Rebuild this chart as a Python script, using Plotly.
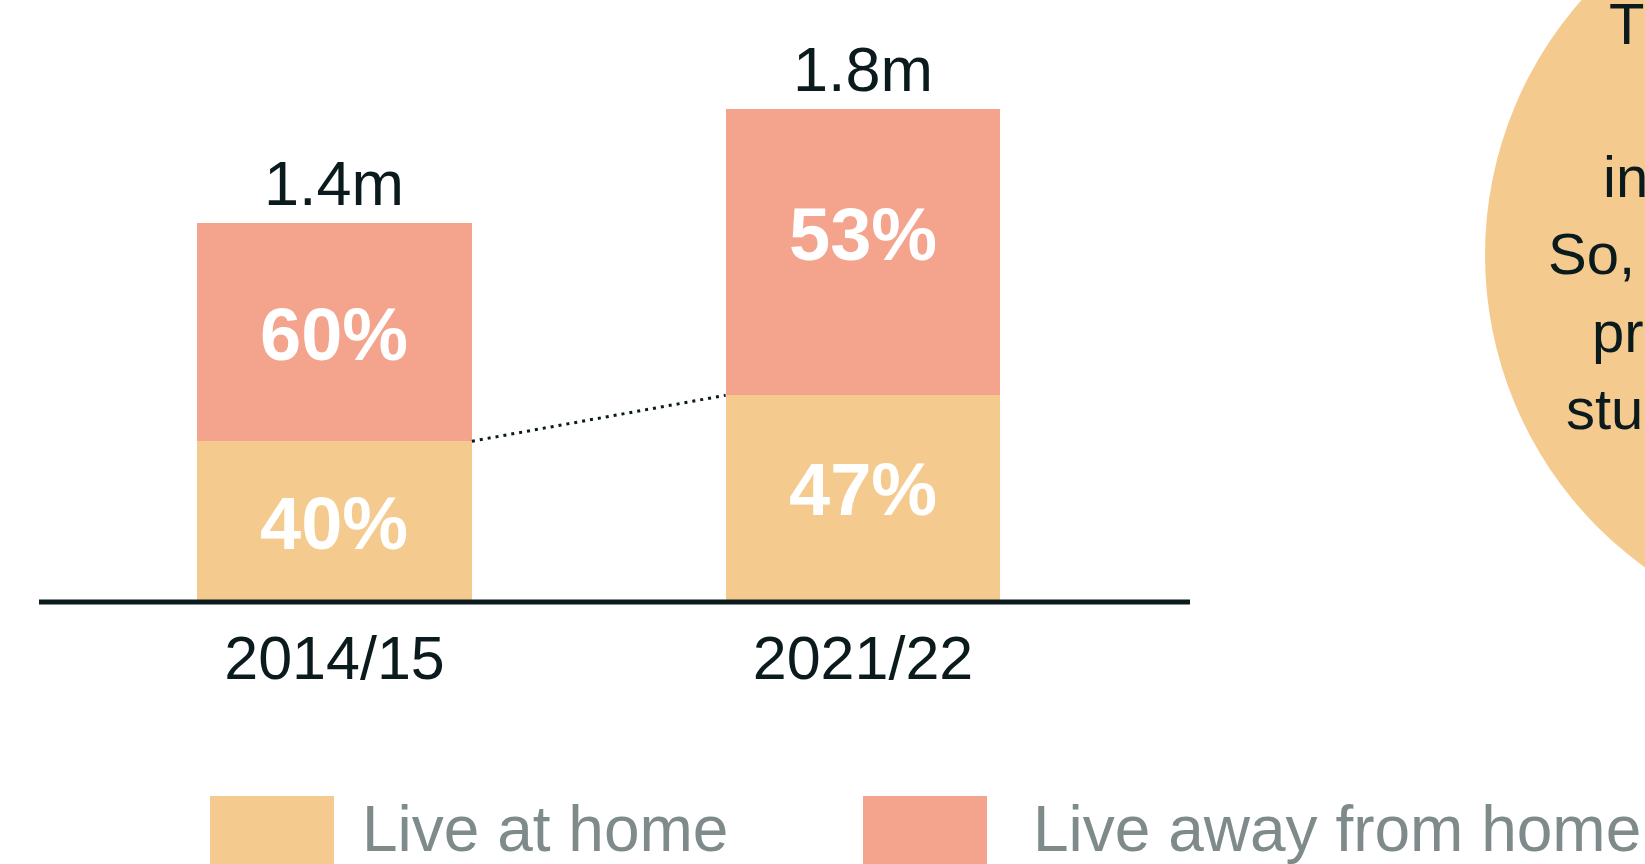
import plotly.graph_objects as go

# ---- data ----
categories = ["2014/15", "2021/22"]
live_at_home = [0.59, 0.76]        # millions
live_away = [0.81, 1.06]           # millions
pct_home = ["40%", "47%"]
pct_away = ["60%", "53%"]
total_labels = ["1.4m", "1.8m"]
legend_names = ["Live at home", "Live away from home"]
circle_lines = ["The", "into", "So, what", "pressure", "students"]

# ---- style ----
W, H = 1645, 864
C_HOME = "#F5CA8E"
C_AWAY = "#F4A38D"
C_DARK = "#0B1A1C"
C_GREY = "#7F8A8A"
FONT = "Liberation Sans, Arial, sans-serif"
BAR_W = 0.52
home_label_shift = [-3, 8]     # px nudges of the in-bar labels
away_label_shift = [-3, 18]

def px(x):
    return x / W

def py(y):
    return 1 - y / H

x_pos = list(range(len(categories)))
totals = [a + b for a, b in zip(live_at_home, live_away)]

fig = go.Figure()
fig.add_trace(go.Bar(
    x=x_pos, y=live_at_home, width=BAR_W, marker=dict(color=C_HOME, line=dict(width=0)),
    hoverinfo="skip", showlegend=False,
))
fig.add_trace(go.Bar(
    x=x_pos, y=live_away, width=BAR_W, marker=dict(color=C_AWAY, line=dict(width=0)),
    hoverinfo="skip", showlegend=False,
))
# dotted connector between the "live at home" tops
fig.add_trace(go.Scatter(
    x=[x_pos[0] + BAR_W / 2, x_pos[1] - BAR_W / 2],
    y=[live_at_home[0], live_at_home[1]],
    mode="lines", line=dict(color=C_DARK, width=3, dash="3px,5px"),
    hoverinfo="skip", showlegend=False,
))

annotations = []
pct_font = dict(family=FONT, size=74, color="white", weight="bold")
for i, xi in enumerate(x_pos):
    annotations.append(dict(x=xi, y=live_at_home[i] / 2, xref="x", yref="y",
                            text=pct_home[i], showarrow=False, yshift=home_label_shift[i],
                            font=pct_font))
    annotations.append(dict(x=xi, y=live_at_home[i] + live_away[i] / 2, xref="x", yref="y",
                            text=pct_away[i], showarrow=False, yshift=away_label_shift[i],
                            font=pct_font))
for xi, t, lab in zip(x_pos, totals, total_labels):
    annotations.append(dict(x=xi, y=t, xref="x", yref="y", text=lab, showarrow=False,
                            yanchor="bottom", xanchor="center", yshift=3,
                            font=dict(family=FONT, size=63, color=C_DARK)))

shapes = []
# baseline axis line
y_zero_px = 600.5
line_px = 602
shapes.append(dict(type="line", xref="paper", yref="paper", x0=px(39), x1=px(1190),
                   y0=py(line_px), y1=py(line_px),
                   line=dict(color=C_DARK, width=5), layer="above"))
# circle on the right
cx, cy, R = 1870, 255, 385
shapes.append(dict(type="circle", xref="paper", yref="paper",
                   x0=px(cx - R), x1=px(cx + R), y0=py(cy + R), y1=py(cy - R),
                   fillcolor=C_HOME, line=dict(width=0), layer="below"))
circle_pos = [(1610, 45), (1604, 198), (1549, 275), (1593, 353), (1567, 430)]
for txt, (lx, base) in zip(circle_lines, circle_pos):
    annotations.append(dict(x=px(lx - 3), y=py(base + 13), xref="paper", yref="paper",
                            text=txt, showarrow=False, xanchor="left", yanchor="bottom",
                            font=dict(family=FONT, size=58, color=C_DARK)))

# legend (custom, large)
sw = [(210, 334), (863, 987)]
txt_x = [362, 1033]
for (x0, x1), name, color, tx in zip(sw, legend_names, [C_HOME, C_AWAY], txt_x):
    shapes.append(dict(type="rect", xref="paper", yref="paper",
                       x0=px(x0), x1=px(x1), y0=py(H), y1=py(796),
                       fillcolor=color, line=dict(width=0)))
    annotations.append(dict(x=px(tx - 2), y=py(853 + 14), xref="paper", yref="paper",
                            text=name, showarrow=False, xanchor="left", yanchor="bottom",
                            font=dict(family=FONT, size=64, color=C_GREY)))

scale = 270.0
fig.update_layout(
    width=W, height=H,
    margin=dict(l=0, r=0, t=0, b=0),
    paper_bgcolor="white", plot_bgcolor="white",
    barmode="stack", bargap=0,
    showlegend=False, hovermode=False,
    shapes=shapes, annotations=annotations,
    xaxis=dict(domain=[px(39), px(1190)], range=[-0.5591, 1.6187],
               tickvals=x_pos, ticktext=categories, ticks="", showgrid=False,
               zeroline=False, showline=False,
               tickfont=dict(family=FONT, size=61, color=C_DARK), ticklabelstandoff=16),
    yaxis=dict(domain=[1 - y_zero_px / H, 1], range=[0, y_zero_px / scale],
               visible=False, showgrid=False, zeroline=False),
)
fig.write_html("out.html", config={"displayModeBar": False},
               post_script="document.body.style.margin='0';document.body.style.overflow='hidden';")
